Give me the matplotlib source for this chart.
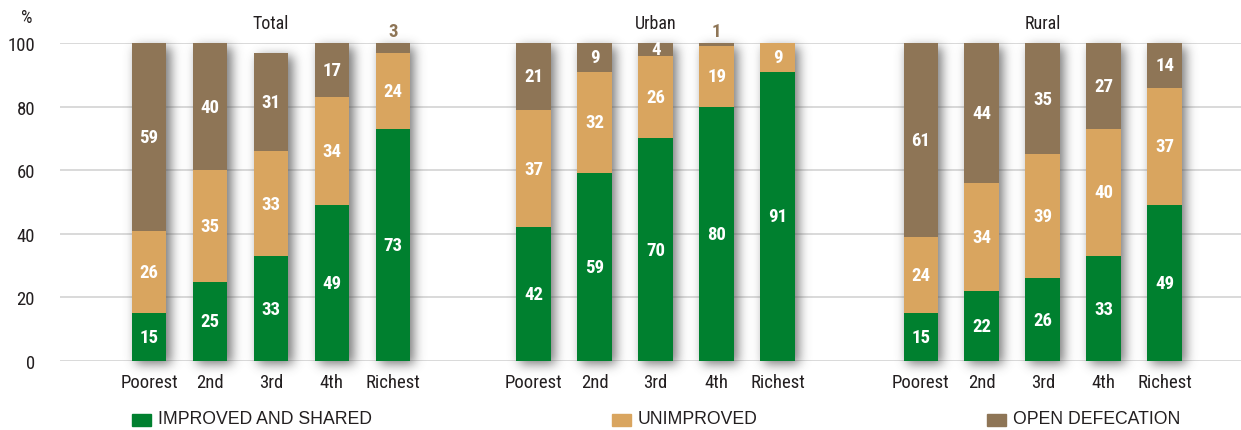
import numpy as np
import matplotlib
matplotlib.use("Agg")
import matplotlib.pyplot as plt
from matplotlib.patches import Rectangle

# Sanitation by wealth quintile, in percent
groups = ["Total", "Urban", "Rural"]
quintiles = ["Poorest", "2nd", "3rd", "4th", "Richest"]
improved = {
    "Total": [15, 25, 33, 49, 73],
    "Urban": [42, 59, 70, 80, 91],
    "Rural": [15, 22, 26, 33, 49],
}
unimproved = {
    "Total": [26, 35, 33, 34, 24],
    "Urban": [37, 32, 26, 19, 9],
    "Rural": [24, 34, 39, 40, 37],
}
open_def = {
    "Total": [59, 40, 31, 17, 3],
    "Urban": [21, 9, 4, 1, 0],
    "Rural": [61, 44, 35, 27, 14],
}
series_names = ["IMPROVED AND SHARED", "UNIMPROVED", "OPEN DEFECATION"]
colors = ["#00802f", "#d9a55f", "#8e7556"]
yticks = [0, 20, 40, 60, 80, 100]

NARROW = ["Roboto Condensed", "Fira Sans Condensed", "DejaVu Sans"]
REG = ["Liberation Sans", "DejaVu Sans"]
INK = "#231f20"

fig = plt.figure(figsize=(12.41, 4.31), dpi=100)
ax = fig.add_axes([60 / 1241, 69 / 431, 1181 / 1241, 318 / 431])

group_offsets = [0.0, 6.31, 12.66]
width = 0.57
xlim = (-1.46, 17.91)

positions = [off + np.arange(len(quintiles)) for off in group_offsets]

# soft drop shadow under the bars, built as a blurred mask
ext_y = (-12.0, 108.0)
nx, ny = 1181, int(round((ext_y[1] - ext_y[0]) * 3.18))
xs = np.linspace(xlim[0], xlim[1], nx)
ys = np.linspace(ext_y[0], ext_y[1], ny)
mask = np.zeros((ny, nx))
dx_sh, dy_sh = 4 / 61.0, -4 / 3.18
for g, pos in zip(groups, positions):
    for i, p in enumerate(pos):
        top = improved[g][i] + unimproved[g][i] + open_def[g][i]
        xm = (xs >= p - width / 2 + dx_sh) & (xs <= p + width / 2 + dx_sh)
        ym = (ys >= 0 + dy_sh) & (ys <= top + dy_sh)
        mask[np.ix_(ym, xm)] = 1.0
sig = 5.5
k = np.arange(-20, 21)
kern = np.exp(-0.5 * (k / sig) ** 2)
kern /= kern.sum()
mask = np.apply_along_axis(lambda r: np.convolve(r, kern, mode="same"), 1, mask)
mask = np.apply_along_axis(lambda c: np.convolve(c, kern, mode="same"), 0, mask)
shadow = np.zeros((ny, nx, 4))
shadow[..., :3] = 0.3
shadow[..., 3] = mask * 0.75
ax.imshow(shadow, extent=(xlim[0], xlim[1], ext_y[0], ext_y[1]), origin="lower",
          aspect="auto", zorder=1, clip_on=False, interpolation="bilinear")
ax.set_xlim(*xlim)
ax.set_ylim(0, 100)

for yv in yticks:
    ax.axhline(yv, color="#d9d9d9", lw=1.4, zorder=0.5)

for g, pos in zip(groups, positions):
    b1 = np.array(improved[g])
    b2 = np.array(unimproved[g])
    b3 = np.array(open_def[g])
    ax.bar(pos, b1, width, color=colors[0], zorder=2)
    ax.bar(pos, b2, width, bottom=b1, color=colors[1], zorder=2)
    ax.bar(pos, b3, width, bottom=b1 + b2, color=colors[2], zorder=2)
    for i, p in enumerate(pos):
        segs = [(b1[i], 0), (b2[i], b1[i]), (b3[i], b1[i] + b2[i])]
        for v, base in segs:
            if v <= 0:
                continue
            if v >= 4:
                ax.text(p, base + v / 2, f"{v}", ha="center", va="center",
                        color="white", fontsize=13.5, fontweight="bold",
                        family=NARROW, zorder=3)
            else:
                ax.text(p, base + v + 3.8, f"{v}", ha="center", va="center",
                        color=colors[2], fontsize=13.5, fontweight="bold",
                        family=NARROW, zorder=3, clip_on=False)
    ax.text(pos[2], 106.3, g, ha="center", va="center", fontsize=13,
            family=NARROW, color=INK)

ax.set_xticks(np.concatenate(positions))
ax.set_xticklabels(quintiles * 3, family=NARROW, fontsize=13.5, color=INK)
ax.set_yticks(yticks)
ax.set_yticklabels([str(v) for v in yticks], family=NARROW, fontsize=13.5, color=INK)
ax.tick_params(axis="both", length=0)
ax.tick_params(axis="x", pad=9)
ax.tick_params(axis="y", pad=18)
for s in ax.spines.values():
    s.set_visible(False)

fig.text(27 / 1241, 1 - 18 / 431, "%", ha="center", va="center", fontsize=13,
         family=NARROW, color=INK)

# legend across the bottom
legend_x = [132, 612, 987]
for lx, name, c in zip(legend_x, series_names, colors):
    fig.patches.append(Rectangle((lx / 1241, 1 - 427 / 431), 19 / 1241, 12 / 431,
                                 transform=fig.transFigure, color=c))
    fig.text((lx + 26) / 1241, 1 - 420 / 431, name, ha="left", va="center",
             fontsize=12.7, family=REG, color=INK)

fig.savefig("out.png", dpi=100)
